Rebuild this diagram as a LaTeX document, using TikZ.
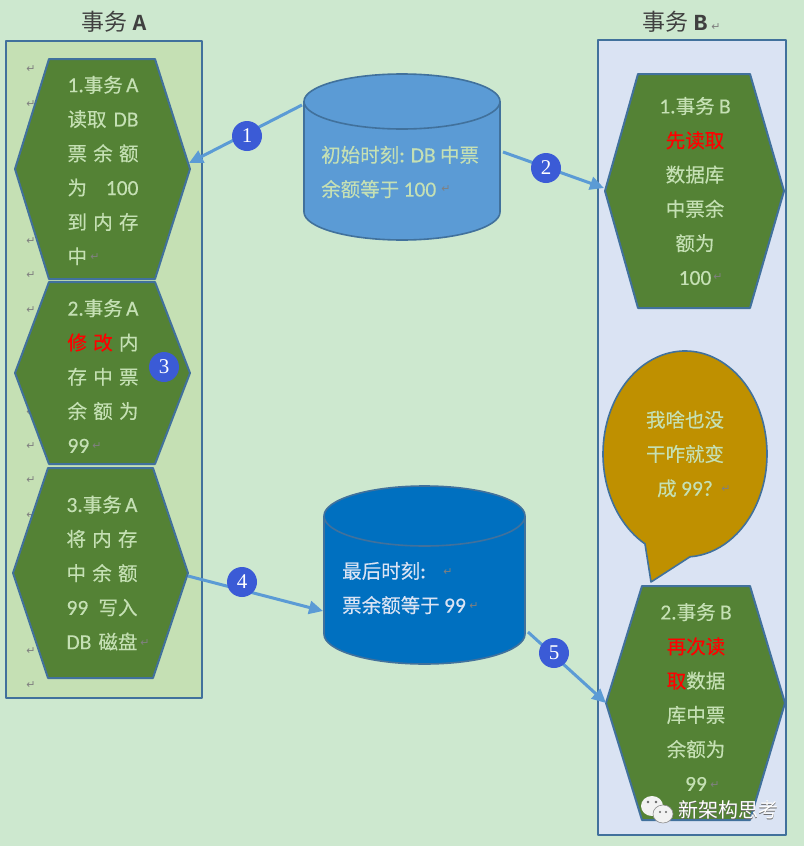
\documentclass[tikz,border=0pt]{standalone}
\usepackage{fontspec}
\setmainfont{Noto Sans CJK SC}[FakeBold=0.25]
\newfontfamily\plaincjk{Noto Sans CJK SC}
\newfontfamily\latfont{Carlito}[FakeBold=0.25]
\newfontfamily\numfont{Liberation Serif}
\newfontfamily\markfont{DejaVu Sans}
\newfontfamily\titlefont{Liberation Mono}
\usetikzlibrary{arrows.meta}

\definecolor{pagebg}{HTML}{CDE8CF}
\definecolor{boxa}{HTML}{C5E0B4}
\definecolor{boxb}{HTML}{DAE3F3}
\definecolor{edgeblue}{HTML}{41719C}
\definecolor{hexgreen}{HTML}{548235}
\definecolor{wordgreen}{HTML}{C5E0B4}
\definecolor{linkblue}{HTML}{5B9BD5}
\definecolor{dbdark}{HTML}{0070C0}
\definecolor{badgeblue}{HTML}{3B5BD6}
\definecolor{talkgold}{HTML}{BF9000}

\newcommand{\la}[1]{{\latfont\fontsize{21.5}{34.3}\selectfont #1}}
\newcommand{\fitline}[1]{\makebox[71pt][s]{#1}}
\newcommand{\flushline}[1]{\makebox[71pt][l]{#1}}

\begin{document}
\begin{tikzpicture}[x=1pt, y=-1pt, line join=round,
  panel/.style={draw=edgeblue, line width=2pt},
  hexa/.style={draw=edgeblue, line width=2pt, fill=hexgreen},
  dbbody/.style={draw=edgeblue, line width=1.6pt},
  link/.style={draw=linkblue, line width=3pt, -{Triangle[length=14pt,width=13pt]}, shorten >=0pt},
  words/.style={inner sep=0pt, align=center, text=wordgreen, font=\fontsize{19.5}{34.3}\selectfont},
  badge/.style={circle, fill=badgeblue, minimum size=30pt, inner sep=0pt, text=white, font=\numfont\fontsize{21}{21}\selectfont},
  retmark/.style={inner sep=0pt, text=black!50, font=\markfont\fontsize{11}{11}\selectfont},
  heading/.style={inner sep=0pt, text=black!75, font=\plaincjk\fontsize{23}{28}\selectfont}]

  %% ════ page and panels ════
  \fill[pagebg] (0,0) rectangle (804,846);
  \draw[panel, fill=boxa] (6,41) rectangle (202,698);
  \draw[panel, fill=boxb] (598,40) rectangle (786,835);

  \node[heading] (titlea) at (114,22) {事务 {\titlefont\bfseries A}};
  \node[heading] (titleb) at (675,22) {事务 {\titlefont\bfseries B}};
  \node[retmark] (markb) at (716,27) {↵};

  %% ════ return marks down the left margin ════
  \foreach \y [count=\i] in {69,104,241,275,310,412,446,480,515,651,685}
    \node[retmark] (margin\i) at (31,\y) {↵};

  %% ════ hexagons ════
  \draw[hexa] (49,59) -- (155,59) -- (190,169) -- (155,279) -- (49,279) -- (15,169) -- cycle;
  \draw[hexa] (49,282) -- (155,282) -- (190,373) -- (155,464) -- (49,464) -- (15,373) -- cycle;
  \draw[hexa] (48,468) -- (153,468) -- (188,573) -- (153,678) -- (48,678) -- (13,573) -- cycle;
  \draw[hexa] (638,74) -- (750,74) -- (784,191) -- (750,308) -- (638,308) -- (605,191) -- cycle;
  \draw[hexa] (642,586) -- (750,586) -- (785,703) -- (750,820) -- (642,820) -- (606,703) -- cycle;

  %% ════ cylinders ════
  \draw[dbbody, fill=linkblue] (304,101.5) -- (304,212) arc[start angle=180, end angle=0, x radius=98, y radius=28] -- (500,101.5);
  \draw[dbbody, fill=linkblue] (402,101.5) ellipse (98 and 27.5);
  \draw[dbbody, fill=dbdark] (324,516) -- (324,634) arc[start angle=180, end angle=0, x radius=100.5, y radius=30] -- (525,516);
  \draw[dbbody, fill=dbdark] (424.5,516) ellipse (100.5 and 30);

  %% ════ speech bubble ════
  \draw[dbbody, fill=talkgold] (645,543.9) arc[start angle=119.2, end angle=446.5, x radius=82, y radius=103] -- (651,582) -- cycle;

  %% ════ connector ends ════
  \coordinate (dbaw) at (302,105);
  \coordinate (hexae) at (189,163);
  \coordinate (dbae) at (503,152);
  \coordinate (hexbw) at (604,188);
  \coordinate (hexce) at (188,576);
  \coordinate (dbbw) at (323,611);
  \coordinate (dbbe) at (528,632);
  \coordinate (hexdw) at (606,703);

  \draw[link] (dbaw) -- (hexae);
  \draw[link] (dbae) -- (hexbw);
  \draw[link] (hexce) -- (dbbw);
  \draw[link] (dbbe) -- (hexdw);

  %% ════ labels ════
  \node[words] (texta) at (103,170.5) {\fitline{\la{1.}事务 \la{A}}\\\fitline{读取 \la{DB}}\\\fitline{票 余 额}\\\fitline{为 \la{100}}\\\fitline{到 内 存}\\\flushline{中}};
  \node[words] (textb) at (103,376) {\fitline{\la{2.}事务 \la{A}}\\\fitline{\textcolor{red}{修 改} 内}\\\fitline{存 中 票}\\\fitline{余 额 为}\\\flushline{\la{99}}};
  \node[words] (textc) at (102,573) {\fitline{\la{3.}事务 \la{A}}\\\fitline{将 内 存}\\\fitline{中 余 额}\\\fitline{\la{99} 写入}\\\fitline{\la{DB} 磁盘}};
  \node[words] (textd) at (695,191) {\la{1.}事务 \la{B}\\\textcolor{red}{先读取}\\数据库\\中票余\\额为\\\la{100}};
  \node[words] (texte) at (696,697) {\la{2.}事务 \la{B}\\\textcolor{red}{再次读}\\\textcolor{red}{取}数据\\库中票\\余额为\\\la{99}};
  \node[words] (talk) at (685,454) {我啥也没\\干咋就变\\成 \la{99?}};
  \node[words, align=left, anchor=west] (dbatext) at (321,172) {初始时刻\la{:} \la{DB} 中票\\余额等于 \la{100}};
  \node[words, align=left, anchor=west, text=boxb] (dbbtext) at (342,588) {最后时刻\la{:}\\票余额等于 \la{99}};

  \node[retmark] (marka) at (95,257) {↵};
  \node[retmark] (markc) at (97,446) {↵};
  \node[retmark] (markd) at (145,643) {↵};
  \node[retmark] (marke) at (718,277) {↵};
  \node[retmark] (markf) at (715,785) {↵};
  \node[retmark] (markg) at (726,489) {↵};
  \node[retmark] (markh) at (446,189) {↵};
  \node[retmark] (marki) at (448,572) {↵};
  \node[retmark] (markj) at (474,606) {↵};

  %% ════ numbered badges ════
  \node[badge] (one) at (247,136) {1};
  \node[badge] (two) at (546,168) {2};
  \node[badge] (three) at (164,367) {3};
  \node[badge] (four) at (242,582) {4};
  \node[badge] (five) at (554,653) {5};

  %% ════ watermark ════
  \fill[white!90!gray] (652,806) ellipse (11 and 10);
  \fill[white!90!gray] (646,814) -- (650,806) -- (655,813) -- cycle;
  \draw[black!45, fill=white!90!gray, line width=0.6pt] (663,814) ellipse (10 and 9);
  \fill[black!60] (648,802) circle (1.3) (656,802) circle (1.3) (660,812) circle (1.1) (666,812) circle (1.1);
  \node[inner sep=0pt, text=black!60, font=\plaincjk\fontsize{20}{24}\selectfont] (markshade) at (728.7,810.7) {新架构思考};
  \node[inner sep=0pt, text=white, font=\plaincjk\fontsize{20}{24}\selectfont] (markname) at (728,810) {新架构思考};

  \pgfresetboundingbox
  \path[use as bounding box] (0,0) rectangle (804,846);
\end{tikzpicture}
\end{document}
